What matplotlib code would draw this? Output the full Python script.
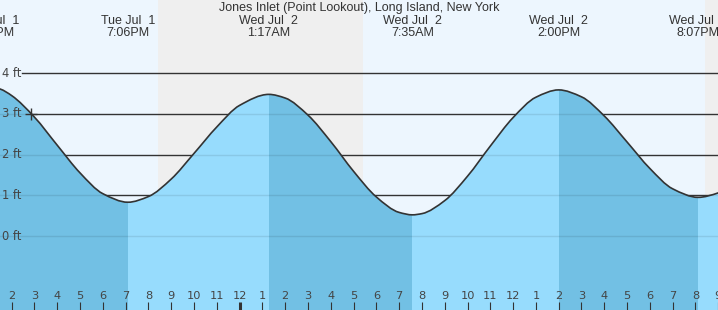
import numpy as np
import matplotlib.pyplot as plt
from matplotlib.path import Path
from matplotlib.patches import PathPatch

# hours counted from Tue Jul 1 00:00
title = 'Jones Inlet (Point Lookout), Long Island, New York'

# high / low tide events
event_hours = [13.15, 19.1, 25.283, 31.583, 38.0, 44.117]
event_feet = [3.70, 0.83, 3.48, 0.52, 3.59, 0.95]
event_day = ['Tue Jul  1', 'Tue Jul  1', 'Wed Jul  2', 'Wed Jul  2', 'Wed Jul  2', 'Wed Jul  2']
event_time = ['1:09PM', '7:06PM', '1:17AM', '7:35AM', '2:00PM', '8:07PM']

# tide height (ft), roughly hourly
curve_hours = [12.8, 13.5, 14, 15, 16, 17, 18, 19.1,
               20, 21, 22, 23, 24, 25.283,
               26, 27, 28, 29, 30, 31, 31.583,
               32, 33, 34, 35, 36, 37, 38,
               39, 40, 41, 42, 43, 44.117, 45, 45.5]
curve_feet = [3.70, 3.61, 3.45, 2.92, 2.23, 1.55, 1.04, 0.83,
              0.97, 1.40, 2.03, 2.68, 3.21, 3.48,
              3.39, 2.97, 2.32, 1.59, 0.96, 0.58, 0.52,
              0.55, 0.87, 1.47, 2.21, 2.91, 3.41, 3.59,
              3.42, 2.95, 2.31, 1.66, 1.16, 0.95, 1.06, 1.22]

# night (sunset -> sunrise)
night_start = [20.42, 44.43]
night_end = [29.40, 48.0]

now_hour = 14.83
now_feet = 3.0

ft_levels = [0, 1, 2, 3, 4]
hour_ticks = list(range(14, 46))

W, H = 718, 310
x_left, x_right = 13.487, 44.99
y_bottom, y_top = -1.818, 5.799

c_day = '#edf6fe'
c_night = '#efefef'
c_fall = '#72c0e4'
c_rise = '#97dcfd'
c_ink = '#333333'


# smooth path through the read points (monotone cubic, drawn as bezier)
def smooth_verts(xs, ys):
    xs = np.asarray(xs, float)
    ys = np.asarray(ys, float)
    h = np.diff(xs)
    d = np.diff(ys) / h
    m = np.zeros_like(ys)
    m[0], m[-1] = d[0], d[-1]
    for k in range(1, len(xs) - 1):
        if d[k - 1] * d[k] <= 0:
            m[k] = 0
        else:
            w1 = 2 * h[k] + h[k - 1]
            w2 = h[k] + 2 * h[k - 1]
            m[k] = (w1 + w2) / (w1 / d[k - 1] + w2 / d[k])
    verts = [(xs[0], ys[0])]
    codes = [Path.MOVETO]
    for k in range(len(xs) - 1):
        verts += [(xs[k] + h[k] / 3, ys[k] + m[k] * h[k] / 3),
                  (xs[k + 1] - h[k] / 3, ys[k + 1] - m[k + 1] * h[k] / 3),
                  (xs[k + 1], ys[k + 1])]
        codes += [Path.CURVE4] * 3
    return verts, codes


fig = plt.figure(figsize=(W / 100, H / 100), dpi=100)
ax = fig.add_axes([0, 0, 1, 1])
ax.set_xlim(x_left, x_right)
ax.set_ylim(y_bottom, y_top)
ax.axis('off')

ax.axvspan(x_left, x_right, color=c_day, zorder=0, lw=0)
for s, e in zip(night_start, night_end):
    ax.axvspan(s, e, color=c_night, zorder=0.5, lw=0)

# black grid lines above water, starting after the ft labels
x_grid0 = x_left + 22 / W * (x_right - x_left)
for lv in ft_levels:
    ax.plot([x_grid0, x_right], [lv, lv], color=c_ink, lw=1.0, zorder=1)

verts, codes = smooth_verts(curve_hours, curve_feet)
fill_verts = verts + [(curve_hours[-1], y_bottom - 1), (curve_hours[0], y_bottom - 1), verts[0]]
fill_codes = codes + [Path.LINETO, Path.LINETO, Path.CLOSEPOLY]
water = PathPatch(Path(fill_verts, fill_codes), facecolor=c_rise, lw=0, zorder=2)
ax.add_patch(water)

# falling tide is the darker blue
for i in range(len(event_hours) - 1):
    if event_feet[i] > event_feet[i + 1]:
        sp = ax.axvspan(curve_hours[0] if i == 0 else event_hours[i], event_hours[i + 1],
                        color=c_fall, lw=0, zorder=2.5)
        sp.set_clip_path(water)

# faint lines seen through the water
for lv in ft_levels:
    ln, = ax.plot([x_left, x_right], [lv, lv], color='#000000', alpha=0.09, lw=1.0, zorder=3)
    ln.set_clip_path(water)

ax.add_patch(PathPatch(Path(verts, codes), facecolor='none', edgecolor=c_ink, lw=1.2, zorder=4))
ax.plot([now_hour], [now_feet], marker='+', ms=8, mew=1.0, color=c_ink, zorder=5)

for lv in ft_levels:
    ax.text(2 / W, lv, '%d ft' % lv, transform=ax.get_yaxis_transform(),
            ha='left', va='center', fontsize=8.3, color='#444444', family='DejaVu Sans', zorder=6)

# hour labels and ticks
xt = ax.get_xaxis_transform()
for h in hour_ticks:
    lab = (h - 1) % 12 + 1
    ax.text(h, 1 - 296 / H, str(lab), transform=xt, ha='center', va='center',
            fontsize=8.2, color='#444444', family='DejaVu Sans', zorder=6)
    lw = 2.2 if h % 24 == 0 else 0.8
    ax.plot([h, h], [0, 8 / H], transform=xt, color=c_ink, lw=lw, zorder=6,
            solid_capstyle='butt')

fig.text(0.5, 1 - 10.5 / H, title, ha='center', va='baseline',
         fontsize=9, color='#333333', family='Liberation Sans')
for h, d, t in zip(event_hours, event_day, event_time):
    ax.text(h, 1 - 24 / H, d, transform=xt, ha='center', va='baseline',
            fontsize=9, color='#333333', family='Liberation Sans', zorder=6, clip_on=False)
    ax.text(h, 1 - 36.5 / H, t, transform=xt, ha='center', va='baseline',
            fontsize=9, color='#333333', family='Liberation Sans', zorder=6, clip_on=False)

fig.savefig('out.png', dpi=100)
